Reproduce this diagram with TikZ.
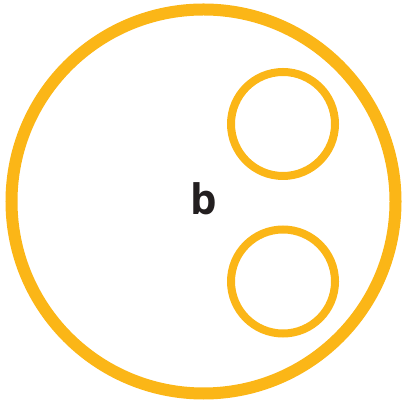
\documentclass[tikz,border=0pt]{standalone}
\usepackage{fontspec}
\setmainfont{Open Sans}
\definecolor{ring}{HTML}{FBB617}
\definecolor{ink}{HTML}{231F20}
\begin{document}
\begin{tikzpicture}[x=1pt,y=1pt,
  bigring/.style={draw=ring,line width=12pt},
  smallring/.style={draw=ring,line width=8pt}]
\useasboundingbox (0,0) rectangle (403,403);
\draw[bigring] (203.5,201.5) circle[radius=192];
\draw[smallring] (283,279) circle[radius=52];
\draw[smallring] (283,121.5) circle[radius=52];
\node[anchor=base,inner sep=0pt,text=ink,font=\fontsize{42}{48}\selectfont\bfseries] (b) at (204,188) {b};
\end{tikzpicture}
\end{document}
